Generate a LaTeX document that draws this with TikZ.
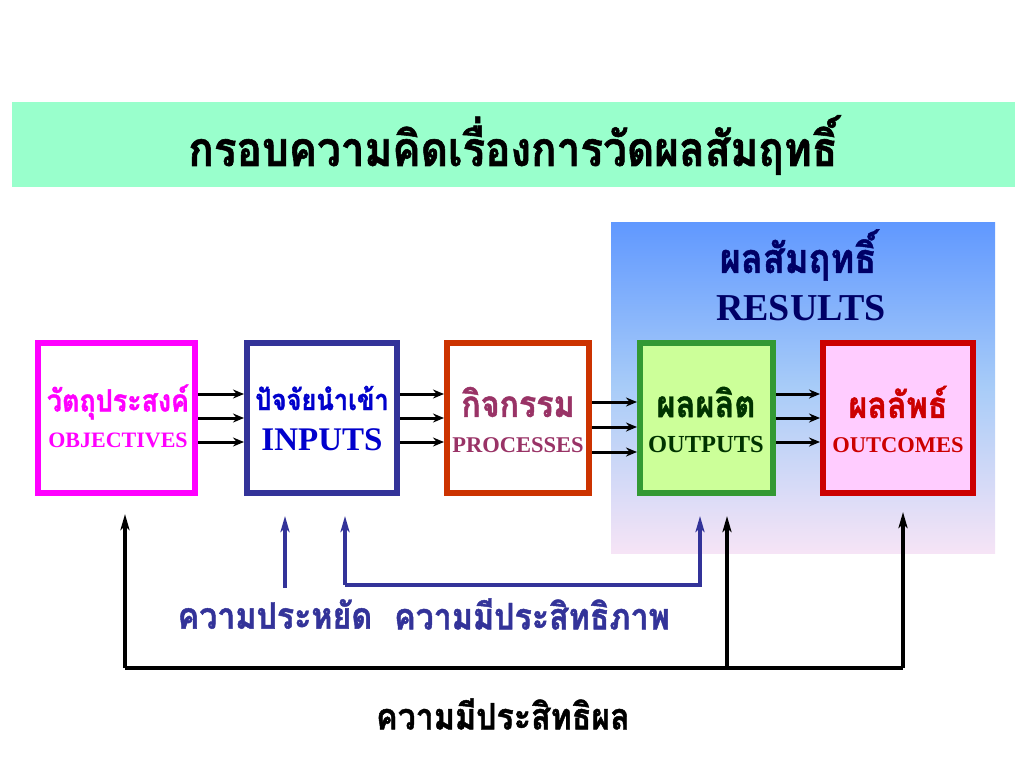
\documentclass[tikz,border=0pt]{standalone}
\usepackage{fontspec}
\setmainfont{Liberation Serif}
\newfontfamily\thai[Script=Thai, FakeStretch=0.88, BoldFeatures={FakeBold=1.2}]{Loma}
\usetikzlibrary{arrows.meta}
\definecolor{titlebg}{HTML}{99FFCC}
\definecolor{panelTop}{HTML}{6098FF}
\definecolor{panelMid}{HTML}{A8CCF8}
\definecolor{panelBot}{HTML}{F6E4F6}
\definecolor{magentaC}{HTML}{FF00FF}
\definecolor{navyC}{HTML}{333399}
\definecolor{blueC}{HTML}{0000CC}
\definecolor{orangeC}{HTML}{CC3300}
\definecolor{maroonC}{HTML}{993366}
\definecolor{greenC}{HTML}{339933}
\definecolor{greenFill}{HTML}{CCFF99}
\definecolor{dgreenC}{HTML}{003300}
\definecolor{redC}{HTML}{CC0000}
\definecolor{pinkFill}{HTML}{FFCCFF}
\definecolor{resC}{HTML}{000066}
\newcommand\thaisize[1]{\thai\bfseries\fontsize{#1}{#1}\selectfont}
\tikzset{
  box/.style={draw, line width=6pt, minimum height=150pt, inner sep=0pt},
  thaitxt/.style={inner sep=0pt, anchor=center},
  engtxt/.style={font=\bfseries, inner sep=0pt, anchor=center},
  flow/.style={line width=3pt, -{Stealth[length=11pt,width=9pt]}},
  fb/.style={line width=4pt, -{Stealth[length=16pt,width=9pt,inset=4pt]}},
  nfb/.style={line width=3.5pt, draw=navyC, -{Stealth[length=16pt,width=9pt,inset=4pt]}},
}
\begin{document}
\begin{tikzpicture}[x=1pt,y=-1pt]
\useasboundingbox (0,0) rectangle (1024,768);
% title band
\fill[titlebg] (12,102) rectangle (1015,187);
\node[thaitxt, font=\thaisize{48}] (title) at (513,145) {กรอบความคิดเรื่องการวัดผลสัมฤทธิ์};
% results panel
\shade[top color=panelTop, bottom color=panelBot, middle color=panelMid] (611,222) rectangle (995,553);
\node[thaitxt, text=resC, font=\thaisize{41}] (resth) at (798,255) {ผลสัมฤทธิ์};
\node[engtxt, text=resC, font=\bfseries\fontsize{38}{44}\selectfont] (res) at (801,308) {RESULTS};
% boxes
\node[box, draw=magentaC, fill=white, minimum width=157pt] (b1) at (116.5,418) {};
\node[box, draw=navyC, fill=white, minimum width=150pt] (b2) at (322,418) {};
\node[box, draw=orangeC, fill=white, minimum width=142pt] (b3) at (518,418) {};
\node[box, draw=greenC, fill=greenFill, minimum width=133pt] (b4) at (706.5,418) {};
\node[box, draw=redC, fill=pinkFill, minimum width=150pt] (b5) at (898,418) {};
% box texts
\node[thaitxt, text=magentaC, font=\thaisize{30.5}] (t1) at (118,402) {วัตถุประสงค์};
\node[engtxt, text=magentaC, font=\bfseries\fontsize{22}{26}\selectfont] (e1) at (118,440) {OBJECTIVES};
\node[thaitxt, text=blueC, font=\thaisize{29}] (t2) at (322,398) {ปัจจัยนำเข้า};
\node[engtxt, text=blueC, font=\bfseries\fontsize{33}{38}\selectfont] (e2) at (322,440) {INPUTS};
\node[thaitxt, text=maroonC, font=\thaisize{36.5}] (t3) at (518,402) {กิจกรรม};
\node[engtxt, text=maroonC, font=\bfseries\fontsize{22.5}{26}\selectfont] (e3) at (518,445) {PROCESSES};
\node[thaitxt, text=dgreenC, font=\thaisize{37}] (t4) at (706,402) {ผลผลิต};
\node[engtxt, text=dgreenC, font=\bfseries\fontsize{24.5}{28}\selectfont] (e4) at (706,445) {OUTPUTS};
\node[thaitxt, text=redC, font=\thaisize{36.5}] (t5) at (898,402) {ผลลัพธ์};
\node[engtxt, text=redC, font=\bfseries\fontsize{22.5}{26}\selectfont] (e5) at (898,445) {OUTCOMES};
% flow arrows
\foreach \s in {24,0,-24} {
  \draw[flow] ([yshift=\s pt]b1.east) -- ([yshift=\s pt]b2.west);
  \draw[flow] ([yshift=\s pt]b2.east) -- ([yshift=\s pt]b3.west);
  \draw[flow] ([yshift=\s pt]b4.east) -- ([yshift=\s pt]b5.west);
}
\foreach \s in {16,-9,-34} {
  \draw[flow] ([yshift=\s pt]b3.east) -- ([yshift=\s pt]b4.west);
}
% feedback arrows
\coordinate (l1) at (125,668);
\coordinate (l2) at (727,668);
\coordinate (l3) at (903,668);
\coordinate (a1) at (125,514);
\coordinate (a2) at (727,516);
\coordinate (a3) at (903,512);
\draw[line width=4pt] (l1) -- (l3);
\draw[fb] (l1) -- (a1);
\draw[fb] (l2) -- (a2);
\draw[fb] (l3) -- (a3);
\coordinate (p1) at (285,588);
\coordinate (q1) at (285,516);
\coordinate (p2) at (345,585);
\coordinate (p3) at (700,585);
\coordinate (q2) at (345,516);
\coordinate (q3) at (700,516);
\draw[nfb] (p1) -- (q1);
\draw[nfb] (p2) -- (q2);
\draw[nfb] (p2) -- (p3) -- (q3);
% labels
\node[thaitxt, text=navyC, font=\thaisize{36.5}] (lab1) at (275,614) {ความประหยัด};
\node[thaitxt, text=navyC, font=\thaisize{36.5}] (lab2) at (532,614) {ความมีประสิทธิภาพ};
\node[thaitxt, text=black, font=\thaisize{36.5}] (lab3) at (503,714) {ความมีประสิทธิผล};
\end{tikzpicture}
\end{document}
